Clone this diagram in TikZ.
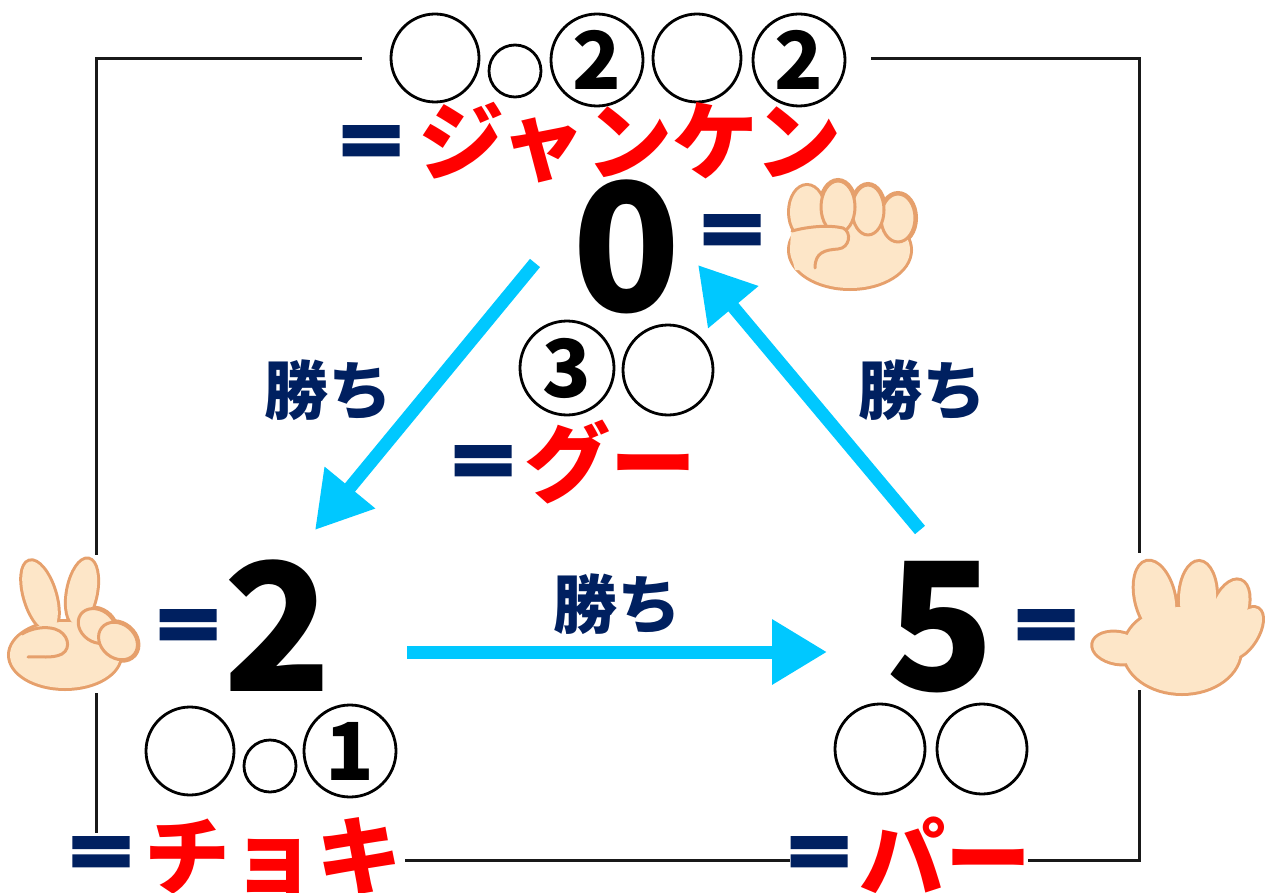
\documentclass[tikz,border=0pt]{standalone}
\usepackage{fontspec}
\newfontfamily\jp{Noto Sans CJK JP}
\newfontfamily\eqfont{Noto Sans CJK JP}[FakeBold=5]
\usetikzlibrary{arrows.meta}
\definecolor{navy}{RGB}{0,32,96}
\definecolor{kred}{RGB}{255,0,0}
\definecolor{skyc}{RGB}{0,200,255}
\definecolor{handfill}{RGB}{253,230,200}
\definecolor{handline}{RGB}{230,160,108}
\newcommand\fistparts[1]{%
  \path[#1] (850,250) ellipse (60 and 38);
  \path[#1] (807,212) ellipse (17 and 26);
  \path[#1] (838,207) ellipse (17 and 26);
  \path[#1] (868,210) ellipse (16 and 25);
  \path[#1] (898,218) ellipse (17 and 24);
}
\newcommand\peaceparts[1]{%
  \path[#1] (65,655) ellipse (55 and 33);
  \path[#1,shift={(40,596)},rotate=-73] (0,0) ellipse (36 and 15);
  \path[#1,shift={(82,592)},rotate=79] (0,0) ellipse (33 and 14);
  \path[#1,shift={(97,626)},rotate=-35] (0,0) ellipse (20 and 16);
  \path[#1,shift={(118,641)},rotate=-40] (0,0) ellipse (21 and 17);
}
\newcommand\openparts[1]{%
  \path[#1] (1182,650) ellipse (58 and 43);
  \path[#1,shift={(1118,648)},rotate=-10] (0,0) ellipse (25 and 15);
  \path[#1,shift={(1155,598)},rotate=-77] (0,0) ellipse (37 and 19);
  \path[#1,shift={(1198,598)},rotate=-92] (0,0) ellipse (36 and 18);
  \path[#1,shift={(1229,612)},rotate=-110] (0,0) ellipse (33 and 17);
  \path[#1,shift={(1243,633)},rotate=-122] (0,0) ellipse (28 and 14);
}
\begin{document}
\begin{tikzpicture}[x=1pt,y=-1pt,
  txt/.style={inner sep=0pt,outer sep=0pt},
  eqsign/.style={txt,text=navy,font=\eqfont\bfseries\fontsize{76}{76}\selectfont},
  kana/.style={txt,text=kred,font=\jp\bfseries\fontsize{86}{86}\selectfont},
  wintxt/.style={txt,text=navy,font=\jp\bfseries\fontsize{64}{64}\selectfont},
  bignum/.style={txt,text=black,font=\jp\bfseries\fontsize{178}{178}\selectfont},
  ring/.style={circle,draw=black,line width=2.8pt,inner sep=0pt,minimum size=88pt,
     font=\jp\bfseries\fontsize{80}{80}\selectfont},
  smallring/.style={ring,minimum size=52pt},
  winarrow/.style={draw=skyc,line width=13pt,-{Triangle[length=55pt,width=62pt]}},
  frameline/.style={line width=3pt,draw=black!90},
  handout/.style={draw=handline,fill=handline,line width=6pt},
  handin/.style={fill=handfill},
  handstroke/.style={draw=handline,line width=3pt,line cap=round,line join=round},
]
\useasboundingbox (0,0) rectangle (1273,893);
\fill[white] (0,0) rectangle (1273,893);
% frame
\draw[frameline] (362,59) -- (96,59) -- (96,555);
\draw[frameline] (96,693) -- (96,833);
\draw[frameline] (871,59) -- (1139,59) -- (1139,553);
\draw[frameline] (1139,690) -- (1139,860) -- (1028,860);
\draw[frameline] (790,860) -- (405,860);
% top circles
\node[ring] (t1) at (435,58) {};
\node[smallring] (t2) at (515,71) {};
\node[ring,minimum size=92pt] (t3) at (597,60) {2};
\node[ring] (t4) at (697,58) {};
\node[ring,minimum size=92pt] (t5) at (799,60) {2};
\node[eqsign] (e1) at (371,149) {＝};
\node[kana] (jan) at (630,143) {ジャンケン};
% zero
\node[bignum] (n0) at (627,247) {0};
\node[eqsign] (e2) at (732,238) {＝};
% fist
\fistparts{handout}
\fistparts{handin}
\path[handin,handstroke] (898,218) ellipse (17 and 24);
\path[handin,handstroke] (868,210) ellipse (16 and 25);
\path[handin,handstroke] (838,207) ellipse (17 and 26);
\fill[handfill] (791,231) .. controls (810,226) and (830,225) .. (843,228) .. controls (852,232) and (850,248) .. (838,249) .. controls (825,250) and (815,252) .. (815,270) -- (795,270) -- (790,250) -- cycle;
\fill[handfill] (793,236) rectangle (815,252);
\draw[handstroke] (792,231) .. controls (810,226) and (830,225) .. (843,228) .. controls (852,232) and (850,248) .. (838,249) .. controls (825,250) and (815,252) .. (815,268);
% guu
\node[ring,minimum size=94pt] (g1) at (567,368) {3};
\node[ring,minimum size=90pt] (g2) at (668,370) {};
\node[eqsign] (e3) at (483,469) {＝};
\node[kana] (guu) at (610,462) {グー};
% win labels
\node[wintxt] (w1) at (328,390) {勝ち};
\node[wintxt] (w2) at (922,390) {勝ち};
\node[wintxt] (w3) at (617,604) {勝ち};
% two
\peaceparts{handout}
\peaceparts{handin}
\path[handin,handstroke,shift={(97,626)},rotate=-35] (0,0) ellipse (20 and 16);
\path[handin,handstroke,shift={(118,641)},rotate=-40] (0,0) ellipse (21 and 17);
\draw[handstroke] (22,634) .. controls (32,628) and (45,626) .. (55,629) .. controls (68,633) and (72,648) .. (62,654) .. controls (52,659) and (40,656) .. (28,657);
\node[eqsign] (e4) at (188,633) {＝};
\node[bignum] (n2) at (278,626) {2};
\node[ring] (c1) at (190,751) {};
\node[smallring] (c2) at (270,766) {};
\node[ring,minimum size=92pt] (c3) at (350,751) {1};
\node[eqsign] (e5) at (101,860) {＝};
\node[kana] (cho) at (273,857) {チョキ};
% five
\node[bignum] (n5) at (941,627) {5};
\node[eqsign] (e6) at (1046,633) {＝};
\openparts{handout}
\openparts{handin}
\node[ring,minimum size=90pt] (p1) at (880,749) {};
\node[ring,minimum size=90pt] (p2) at (982,749) {};
\node[eqsign] (e7) at (819,860) {＝};
\node[kana] (paa) at (945,855) {パー};
% arrows
\coordinate (a1s) at (535,263);
\coordinate (a1e) at (315,530);
\coordinate (a2s) at (407,652);
\coordinate (a2e) at (827,652);
\coordinate (a3s) at (920,530);
\coordinate (a3e) at (698,265);
\draw[winarrow] (a1s) -- (a1e);
\draw[winarrow] (a2s) -- (a2e);
\draw[winarrow] (a3s) -- (a3e);
\end{tikzpicture}
\end{document}
